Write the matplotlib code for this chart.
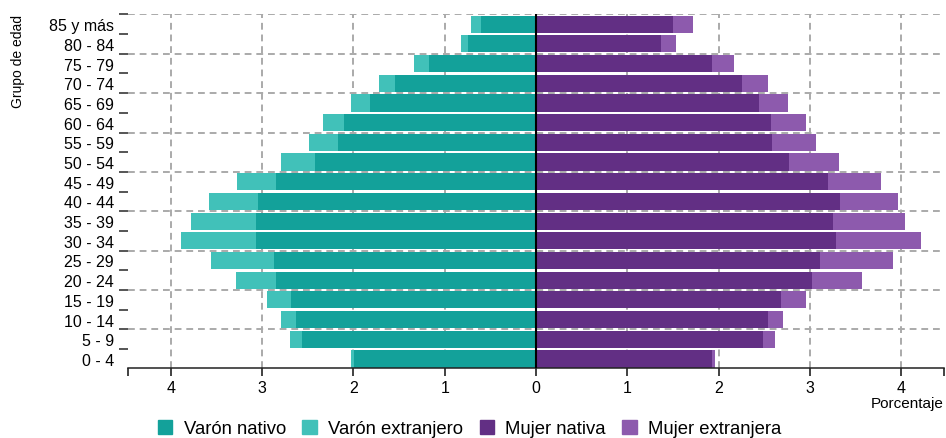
import numpy as np
import matplotlib
matplotlib.use("Agg")
import matplotlib.pyplot as plt
from matplotlib.patches import Patch

plt.rcParams["font.family"] = ["Liberation Sans", "DejaVu Sans"]

grupos = ["0 - 4", "5 - 9", "10 - 14", "15 - 19", "20 - 24", "25 - 29",
          "30 - 34", "35 - 39", "40 - 44", "45 - 49", "50 - 54", "55 - 59",
          "60 - 64", "65 - 69", "70 - 74", "75 - 79", "80 - 84", "85 y más"]

varon_nativo = [1.993, 2.559, 2.624, 2.679, 2.848, 2.873, 3.067, 3.067, 3.051,
                2.851, 2.421, 2.172, 2.103, 1.814, 1.540, 1.168, 0.741, 0.606]
varon_extranjero = [0.037, 0.135, 0.165, 0.263, 0.438, 0.690, 0.825, 0.715, 0.537,
                    0.424, 0.368, 0.314, 0.233, 0.208, 0.180, 0.168, 0.084, 0.109]
mujer_nativa = [1.924, 2.486, 2.541, 2.680, 3.019, 3.107, 3.283, 3.257, 3.326,
                3.202, 2.775, 2.585, 2.571, 2.447, 2.253, 1.924, 1.373, 1.497]
mujer_extranjera = [0.037, 0.136, 0.164, 0.274, 0.552, 0.807, 0.934, 0.781, 0.643,
                    0.573, 0.548, 0.478, 0.383, 0.317, 0.288, 0.245, 0.165, 0.219]

leyenda = ["Varón nativo", "Varón extranjero", "Mujer nativa", "Mujer extranjera"]
colores = ["#13A19A", "#41C1B9", "#622F84", "#8D5AAD"]

vn = np.array(varon_nativo)
ve = np.array(varon_extranjero)
mn = np.array(mujer_nativa)
me = np.array(mujer_extranjera)
y = np.arange(len(grupos))
h = 0.87

fig = plt.figure(figsize=(9.46, 4.39), dpi=100)
ax = fig.add_axes([128 / 946, 1 - 368.5 / 439, (944 - 128) / 946, (368.5 - 15) / 439])

xmax = 4.47
ax.set_xlim(-xmax, xmax)
ax.set_ylim(-0.435, 17.52)

# rejilla discontinua detras de las barras
grid_kw = dict(color="#aaaaaa", lw=1.4, ls=(0, (3.5, 2.5)), zorder=0)
for gx in range(-4, 5):
    ax.axvline(gx, **grid_kw)
for gy in np.arange(1.5, 18, 2):
    ax.axhline(gy, **grid_kw)

ax.barh(y, -vn, height=h, color=colores[0], zorder=2)
ax.barh(y, -ve, left=-vn, height=h, color=colores[1], zorder=2)
ax.barh(y, mn, height=h, color=colores[2], zorder=2)
ax.barh(y, me, left=mn, height=h, color=colores[3], zorder=2)

ax.axvline(0, color="black", lw=1.5, zorder=3)

for s in ["top", "right", "left"]:
    ax.spines[s].set_visible(False)
ax.spines["bottom"].set_color("#222222")
ax.spines["bottom"].set_linewidth(1.1)

xt = [-xmax, -4, -3, -2, -1, 0, 1, 2, 3, 4, xmax]
ax.set_xticks(xt)
ax.set_xticklabels(["" if abs(v) > 4 else str(abs(int(v))) for v in xt], fontsize=11.5)
ax.tick_params(axis="x", length=6, width=1.3, color="#333333", pad=3)

ax.set_yticks(y)
ax.set_yticklabels(grupos, fontsize=11.5)
ax.tick_params(axis="y", which="major", length=0, pad=10)
ax.set_yticks(np.arange(0.5, 18, 1), minor=True)
ax.tick_params(axis="y", which="minor", length=6.5, width=1.4, color="#555555")

fig.text(18 / 946, 1 - 15 / 439, "Grupo de edad", rotation=90, ha="center", va="top", fontsize=10)
fig.text(944 / 946, 1 - 404 / 439, "Porcentaje", ha="right", va="center", fontsize=11)

handles = [Patch(color=c) for c in colores]
fig.legend(handles, leyenda, loc="center", bbox_to_anchor=(469.5 / 946, 1 - 429.5 / 439),
           ncol=4, frameon=False, fontsize=13.3, handlelength=0.78, handleheight=0.78,
           handletextpad=0.6, columnspacing=0.9, borderaxespad=0, borderpad=0)

fig.savefig("out.png", dpi=100)
